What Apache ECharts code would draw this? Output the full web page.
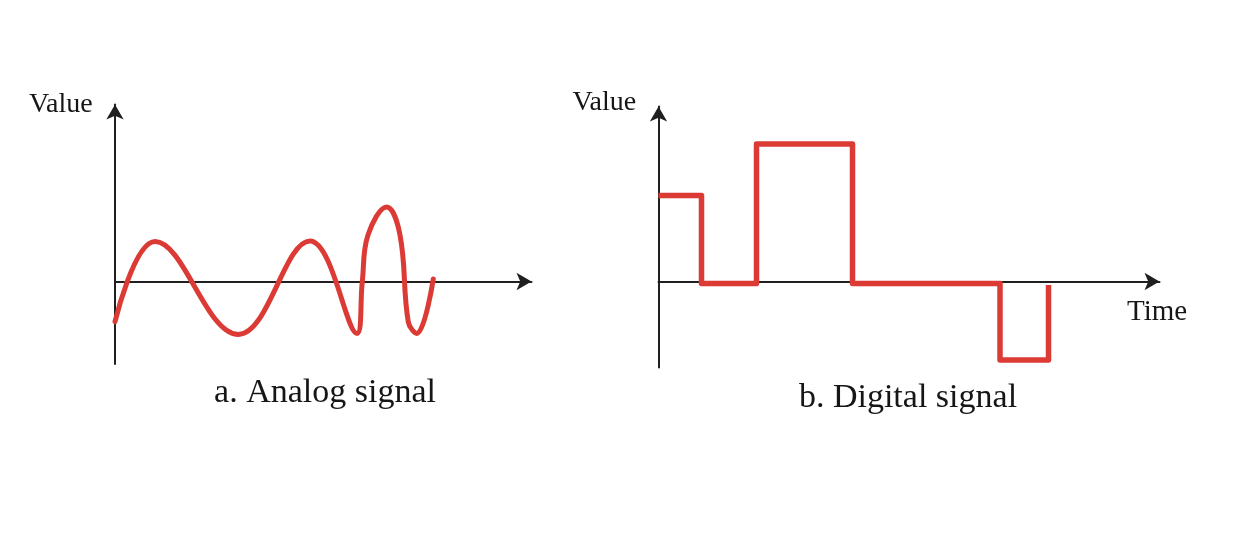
<!DOCTYPE html>
<html>
<head>
<meta charset="utf-8">
<script src="https://cdn.jsdelivr.net/npm/echarts@6/dist/echarts.min.js"></script>
<style>
  html, body { margin: 0; padding: 0; background: #ffffff; }
  #chart { width: 1248px; height: 559px; }
</style>
</head>
<body>
<div id="chart"></div>
<script>
// Analog signal: time positions and values read along the wave
// (start, peaks, troughs, and the steep flanks of the last, faster cycle)
const analogTime  = [0, 40, 123.3, 195, 242, 247.3, 253, 271.7, 285, 293.3, 301.7, 318.3];
const analogValue = [-40.2, 40, -53, 40.5, -52, 0, 46.5, 74.5, 46.5, -40.5, -52, 2.5];

// Digital signal: time at which each level starts, and the level
const digitalTime  = [0, 43, 98, 194, 341.5, 390];
const digitalLevel = [86, -2, 137.5, -2, -78.5, -3.5];

// Texts
const axisValueLabel = 'Value';
const axisTimeLabel = 'Time';
const captionA = 'a. Analog signal';
const captionB = 'b. Digital signal';

const RED = '#dc3a34';
const AXIS = '#1f1f1f';
const TEXT = '#161616';
const FONT = '"Liberation Serif", "DejaVu Serif", serif';

const analogData = analogTime.map((t, i) => [t, analogValue[i]]);
const digitalData = digitalTime.map((t, i) => [t, digitalLevel[i]]);

function axisCommon() {
  return {
    axisLine: {
      show: true,
      onZero: true,
      symbol: ['none', 'arrow'],
      symbolSize: [13, 15],
      lineStyle: { color: AXIS, width: 2 }
    },
    axisTick: { show: false },
    axisLabel: { show: false },
    splitLine: { show: false }
  };
}

const chart = echarts.init(document.getElementById('chart'), null, { renderer: 'canvas' });
chart.setOption({
  backgroundColor: '#ffffff',
  animation: false,
  grid: [
    { left: 115, top: 104.5, width: 416.5, height: 259.5 },
    { left: 658.5, top: 106.5, width: 501, height: 261 }
  ],
  xAxis: [
    Object.assign({ type: 'value', gridIndex: 0, min: 0, max: 416.5 }, axisCommon()),
    Object.assign({ type: 'value', gridIndex: 1, min: 0, max: 501 }, axisCommon())
  ],
  yAxis: [
    Object.assign({ type: 'value', gridIndex: 0, min: -82.5, max: 177 }, axisCommon()),
    Object.assign({ type: 'value', gridIndex: 1, min: -86, max: 175 }, axisCommon())
  ],
  series: [
    {
      name: 'Analog signal',
      type: 'line',
      xAxisIndex: 0, yAxisIndex: 0,
      data: analogData,
      smooth: 0.4,
      showSymbol: false,
      clip: false,
      lineStyle: { color: RED, width: 5, cap: 'round', join: 'round' },
      z: 1
    },
    {
      name: 'Digital signal',
      type: 'line',
      xAxisIndex: 1, yAxisIndex: 1,
      data: digitalData,
      step: 'end',
      showSymbol: false,
      clip: false,
      lineStyle: { color: RED, width: 5.5, cap: 'butt', join: 'round' },
      z: 1
    }
  ],
  graphic: [
    { type: 'text', x: 29, y: 104.3,
      style: { text: axisValueLabel, font: '28px ' + FONT, fill: TEXT, textAlign: 'left', textVerticalAlign: 'middle' } },
    { type: 'text', x: 572.5, y: 102.6,
      style: { text: axisValueLabel, font: '28px ' + FONT, fill: TEXT, textAlign: 'left', textVerticalAlign: 'middle' } },
    { type: 'text', x: 1127, y: 312.7,
      style: { text: axisTimeLabel, font: '29px ' + FONT, fill: TEXT, textAlign: 'left', textVerticalAlign: 'middle' } },
    { type: 'text', x: 325, y: 393.4,
      style: { text: captionA, font: '34px ' + FONT, fill: TEXT, textAlign: 'center', textVerticalAlign: 'middle' } },
    { type: 'text', x: 908, y: 397.6,
      style: { text: captionB, font: '34px ' + FONT, fill: TEXT, textAlign: 'center', textVerticalAlign: 'middle' } }
  ]
});
</script>
</body>
</html>
